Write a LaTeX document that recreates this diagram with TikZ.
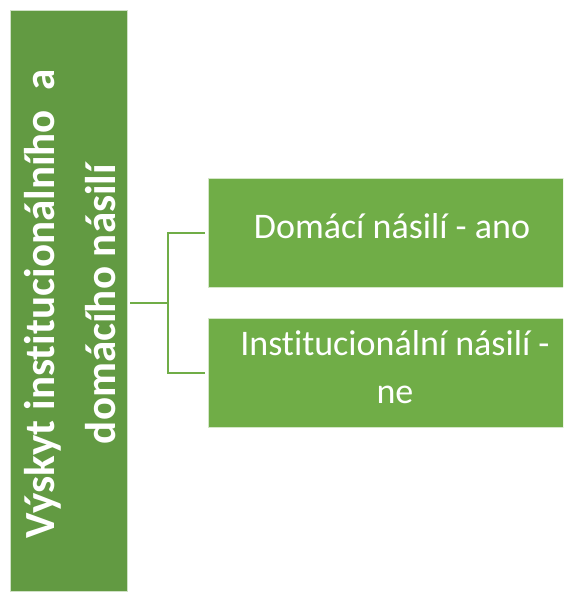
\documentclass[tikz,border=0pt]{standalone}
\usepackage{fontspec}
\setmainfont{Carlito}[RawFeature=-liga]
\usepackage{tikz}
\usetikzlibrary{positioning,calc}
\definecolor{darkleaf}{RGB}{98,154,66}
\definecolor{leaf}{RGB}{112,173,71}
\tikzstyle{parentbox}=[fill=darkleaf, draw=white!70!darkleaf, line width=0.8pt, minimum width=117pt, minimum height=581pt, inner sep=0pt]
\tikzstyle{parenttext}=[text=white, align=center, inner sep=0pt, rotate=90, font=\fontsize{43}{61}\selectfont\bfseries]
\tikzstyle{childbox}=[fill=leaf, draw=white!70!leaf, line width=0.8pt, minimum width=372pt, minimum height=109pt, inner sep=0pt]
\tikzstyle{childtext}=[text=white, align=center, inner sep=0pt, font=\fontsize{36}{48}\selectfont]
\tikzstyle{branch}=[draw=leaf, line width=2pt]

\begin{document}
\begin{tikzpicture}[x=1pt,y=-1pt]
	\useasboundingbox (0,0) rectangle (563,592);
	\clip (0,0) rectangle (563,592);
	\node[parentbox] (parent) at (68.5,300.5) {};
	\node[parenttext] (parentlabel) at (70,304) {Výskyt institucionálního\ \ a\\domácího násilí};
	\node[childbox] (child1) at (394,232.5) {};
	\node[childbox] (child2) at (394,373) {};
	\node[childtext] (label1) at ($(child1.center)+(-2,-6)$) {Domácí násilí - ano};
	\node[childtext] (label2) at ($(child2.center)+(1,-6)$) {Institucionální násilí -\\ne};
	\coordinate (fork) at ($(child1.west)!0.5!(child2.west)+(-40,0)$);
	\draw[branch, shorten <=3pt] (fork -| parent.east) -- (fork);
	\draw[branch, shorten >=3pt] (fork) |- (child1.west);
	\draw[branch, shorten >=3pt] (fork) |- (child2.west);
\end{tikzpicture}
\end{document}
